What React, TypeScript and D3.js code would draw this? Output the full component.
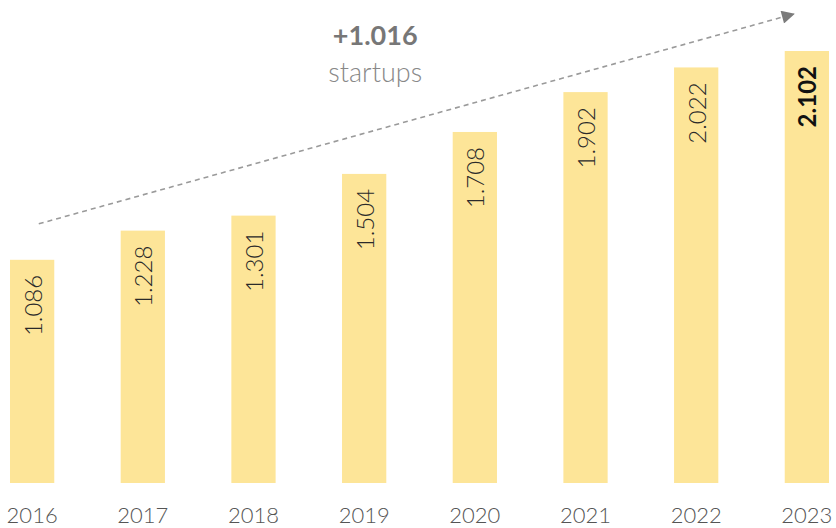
import * as d3 from 'd3';

// Startups per year
const years = ['2016', '2017', '2018', '2019', '2020', '2021', '2022', '2023'];
const startups = [1086, 1228, 1301, 1504, 1708, 1902, 2022, 2102];
const labels = ['1.086', '1.228', '1.301', '1.504', '1.708', '1.902', '2.022', '2.102'];
const growthLabel = '+1.016';
const growthUnit = 'startups';

const width = 836;
const height = 528;
const margin = { top: 51, bottom: 45, left: 10, right: 7 };
const font = 'Lato, "Noto Sans", sans-serif';

export default function App() {
  const xScale = d3
    .scaleBand<string>()
    .domain(years)
    .range([margin.left, width - margin.right])
    .paddingInner(0.6)
    .paddingOuter(0);
  const yScale = d3
    .scaleLinear()
    .domain([0, d3.max(startups) as number])
    .range([height - margin.bottom, margin.top]);

  const bw = xScale.bandwidth();
  const last = years.length - 1;

  // dashed trend arrow, anchored to the first and last bars
  const x1 = (xScale(years[0]) as number) + bw * 0.65;
  const y1 = yScale(startups[0]) - 36;
  const x2 = (xScale(years[last]) as number) + bw * 0.2;
  const y2 = yScale(startups[last]) - 37;

  const noteX = (xScale('2019') as number) + bw * 0.75;

  return (
    <svg
      width={width}
      height={height}
      style={{ position: 'absolute', left: 0, top: 0, background: '#fff' }}
    >
      <defs>
        <marker
          id='arrow'
          viewBox='0 0 10 10'
          refX='9'
          refY='5'
          markerWidth='15'
          markerHeight='13'
          markerUnits='userSpaceOnUse'
          orient='auto'
        >
          <path d='M0,0 L10,5 L0,10 Z' fill='#7b7b7b' />
        </marker>
      </defs>

      {years.map((yr, i) => {
        const x = xScale(yr) as number;
        const top = yScale(startups[i]);
        const cx = x + bw / 2;
        const ty = top + 15;
        return (
          <g key={yr}>
            <rect
              x={x}
              y={top}
              width={bw}
              height={yScale(0) - top}
              fill='#fde598'
            />
            <text
              transform={`translate(${cx},${ty}) rotate(-90)`}
              textAnchor='end'
              dominantBaseline='central'
              fontFamily={font}
              fontSize={24}
              fontWeight={i === last ? 700 : 300}
              fill={i === last ? '#111' : '#2a2a2a'}
            >
              {labels[i]}
            </text>
            <text
              x={cx}
              y={height - 5}
              textAnchor='middle'
              fontFamily={font}
              fontSize={22}
              fontWeight={300}
              fill='#555'
            >
              {yr}
            </text>
          </g>
        );
      })}

      <line
        x1={x1}
        y1={y1}
        x2={x2}
        y2={y2}
        stroke='#9a9a9a'
        strokeWidth={1.6}
        strokeDasharray='5 4'
        markerEnd='url(#arrow)'
      />

      <text
        x={noteX}
        y={45}
        textAnchor='middle'
        fontFamily={font}
        fontSize={27}
        fontWeight={700}
        fill='#777'
      >
        {growthLabel}
      </text>
      <text
        x={noteX}
        y={82}
        textAnchor='middle'
        fontFamily={font}
        fontSize={27}
        fontWeight={300}
        fill='#888'
      >
        {growthUnit}
      </text>
    </svg>
  );
}
